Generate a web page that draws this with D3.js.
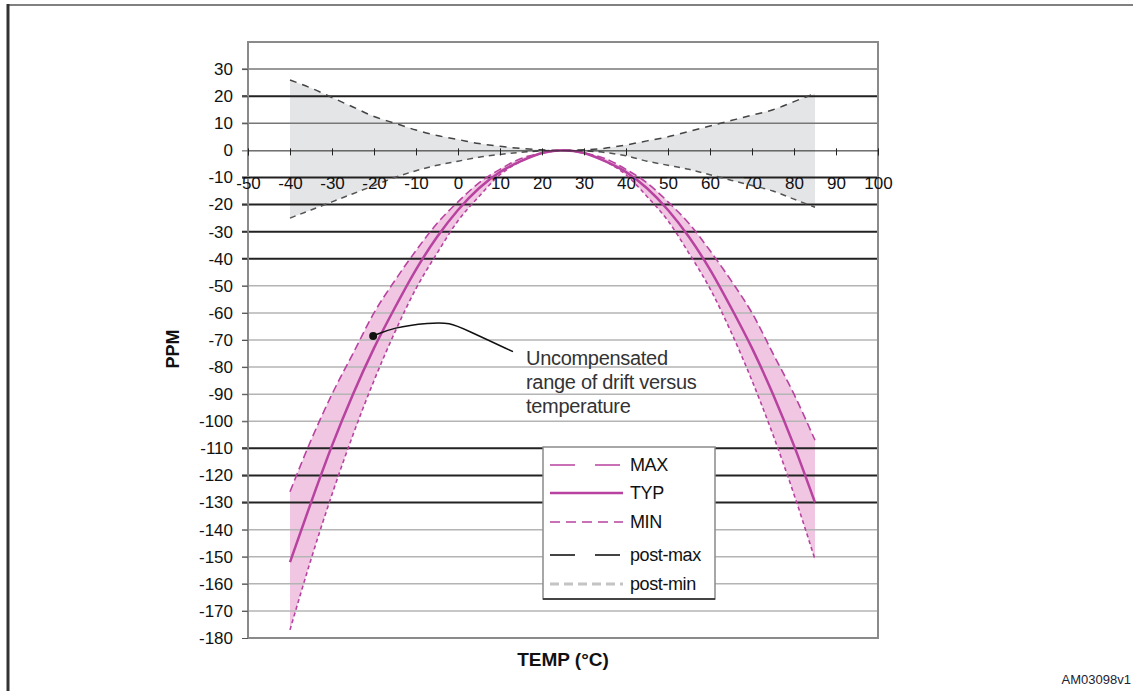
<!DOCTYPE html>
<html>
<head>
<meta charset="utf-8">
<script src="https://cdn.jsdelivr.net/npm/d3@7"></script>
<style>
  body { margin: 0; background: #fff; }
  svg text { font-family: "Liberation Sans", Arial, sans-serif; }
</style>
</head>
<body>
<div id="chart"></div>
<script>
// temperature points (°C) and drift values (ppm)
const temps = [-40, -35, -30, -25, -20, -15, -10, -5, 0, 5, 10, 15, 20, 25, 30, 35, 40, 45, 50, 55, 60, 65, 70, 75, 80, 85];
const maxPpm = [-126, -107, -90, -75, -60, -48, -37, -27, -19, -12, -7, -3, -1, 0, -1, -3, -7, -12, -19, -27, -37, -48, -60, -75, -90, -107];
const typPpm = [-152, -130, -109, -90, -73, -58, -44, -32, -22, -14, -8, -4, -1, 0, -1, -4, -8, -14, -22, -32, -44, -58, -73, -90, -109, -130];
const minPpm = [-177, -151, -127, -105, -85, -67, -51, -38, -26, -17, -9, -4, -1, 0, -1, -4, -9, -17, -26, -38, -51, -67, -85, -105, -127, -151];
const postMax = [26, 23, 19.5, 16, 12.5, 10, 7.5, 5.5, 4, 2.5, 1.5, 0.7, 0.2, 0, 0.2, 0.8, 2, 3.5, 5, 7, 9, 11, 13, 15, 18, 21];
const postMin = [-25, -22, -19, -16, -13, -10, -7.5, -5.5, -4, -2.5, -1.5, -0.7, -0.2, 0, -0.2, -0.8, -2, -4, -5.5, -7, -9, -11, -13, -15, -18, -21];

const xTickValues = [-50, -40, -30, -20, -10, 0, 10, 20, 30, 40, 50, 60, 70, 80, 90, 100];
const yTickValues = [30, 20, 10, 0, -10, -20, -30, -40, -50, -60, -70, -80, -90, -100, -110, -120, -130, -140, -150, -160, -170, -180];
const darkGrid = [20, -10, -20, -30, -40, -110, -120, -130];
const midGrid = [30, 10];

const legendLabels = ["MAX", "TYP", "MIN", "post-max", "post-min"];

// annotation pointer, in data units
const pointerPath = [[-20.2, -68.5], [-15.5, -65.4], [-6.7, -63.6], [-1.9, -63.6], [1.7, -66.1], [13.1, -74.3]];
const noteLines = ["Uncompensated", "range of drift versus", "temperature"];

const width = 1133, height = 691;
const plot = { left: 248, right: 878, top: 42, bottom: 638 };

const magenta = "#b8429f";

const svg = d3.select("#chart").append("svg")
    .attr("width", width)
    .attr("height", height);

// outer frame
svg.append("line").attr("x1", 8).attr("x2", width).attr("y1", 5).attr("y2", 5)
    .attr("stroke", "#808080").attr("stroke-width", 2);
svg.append("line").attr("x1", 8).attr("x2", 8).attr("y1", 4).attr("y2", height)
    .attr("stroke", "#333").attr("stroke-width", 3);

const x = d3.scaleLinear().domain([-50, 100]).range([plot.left, plot.right]);
const y = d3.scaleLinear().domain([-180, 40]).range([plot.bottom, plot.top]);

const idx = d3.range(temps.length);

// shaded bands
const band = (lo, hi) => d3.area()
    .x(i => x(temps[i]))
    .y0(i => y(lo[i]))
    .y1(i => y(hi[i]))
    .curve(d3.curveMonotoneX);

svg.append("path").datum(idx)
    .attr("d", band(postMin, postMax))
    .attr("fill", "#e4e5e7");

svg.append("path").datum(idx)
    .attr("d", band(minPpm, maxPpm))
    .attr("fill", "#f0c6e3");

// gridlines
svg.append("g").selectAll("line")
    .data(yTickValues.filter(v => v !== 0 && v !== -180))
    .enter().append("line")
    .attr("x1", plot.left - 6)
    .attr("x2", plot.right)
    .attr("y1", d => y(d))
    .attr("y2", d => y(d))
    .attr("stroke", d => darkGrid.includes(d) ? "#222" : midGrid.includes(d) ? "#777" : "#b4b4b4")
    .attr("stroke-width", d => darkGrid.includes(d) ? 2 : 1.5);

// plot frame
svg.append("rect")
    .attr("x", plot.left).attr("y", plot.top)
    .attr("width", plot.right - plot.left)
    .attr("height", plot.bottom - plot.top)
    .attr("fill", "none")
    .attr("stroke", "#8a8a8a")
    .attr("stroke-width", 2);

// curves
const curve = vals => d3.line()
    .x(i => x(temps[i]))
    .y(i => y(vals[i]))
    .curve(d3.curveMonotoneX);

svg.append("path").datum(idx).attr("d", curve(postMax))
    .attr("fill", "none").attr("stroke", "#444").attr("stroke-width", 1.5)
    .attr("stroke-dasharray", "7,6");
svg.append("path").datum(idx).attr("d", curve(postMin))
    .attr("fill", "none").attr("stroke", "#555").attr("stroke-width", 1.5)
    .attr("stroke-dasharray", "6,5");

svg.append("path").datum(idx).attr("d", curve(maxPpm))
    .attr("fill", "none").attr("stroke", magenta).attr("stroke-width", 1.6)
    .attr("stroke-dasharray", "8,4");
svg.append("path").datum(idx).attr("d", curve(minPpm))
    .attr("fill", "none").attr("stroke", magenta).attr("stroke-width", 1.6)
    .attr("stroke-dasharray", "4,3");
svg.append("path").datum(idx).attr("d", curve(typPpm))
    .attr("fill", "none").attr("stroke", magenta).attr("stroke-width", 2.5);

// y axis (plain hyphen for negatives, as in the reference)
const yAxis = svg.append("g")
    .attr("transform", `translate(${plot.left},0)`)
    .call(d3.axisLeft(y).tickValues(yTickValues).tickFormat(d => String(d)).tickSize(6).tickPadding(9));
yAxis.select(".domain").remove();
yAxis.selectAll(".tick line").attr("stroke", "#555");
yAxis.selectAll("text").attr("font-size", 17).attr("fill", "#111");

// x axis on the zero line
const xAxis = svg.append("g")
    .attr("transform", `translate(0,${y(0)})`)
    .call(d3.axisBottom(x).tickValues(xTickValues).tickFormat(d => String(d)).tickSize(5).tickPadding(22));
xAxis.select(".domain").attr("stroke", "#222").attr("stroke-width", 1);
xAxis.selectAll(".tick line").attr("stroke", "#222").attr("y1", -2);
xAxis.selectAll("text").attr("font-size", 17).attr("fill", "#111");

// axis titles
svg.append("text")
    .attr("transform", "translate(179,349) rotate(-90)")
    .attr("text-anchor", "middle")
    .attr("font-size", 18).attr("font-weight", "bold").attr("fill", "#111")
    .text("PPM");

svg.append("text")
    .attr("x", (plot.left + plot.right) / 2)
    .attr("y", 666)
    .attr("text-anchor", "middle")
    .attr("font-size", 19).attr("font-weight", "bold").attr("fill", "#111")
    .text("TEMP (°C)");

// annotation
svg.append("path")
    .datum(pointerPath)
    .attr("d", d3.line().x(d => x(d[0])).y(d => y(d[1])).curve(d3.curveBasis))
    .attr("fill", "none").attr("stroke", "#111").attr("stroke-width", 1.5);
svg.append("circle")
    .attr("cx", x(pointerPath[0][0])).attr("cy", y(pointerPath[0][1]))
    .attr("r", 4).attr("fill", "#111");

svg.append("g").selectAll("text")
    .data(noteLines)
    .enter().append("text")
    .attr("x", 526)
    .attr("y", (d, i) => 365 + i * 24)
    .attr("font-family", "'Open Sans', sans-serif")
    .attr("font-size", 20)
    .attr("letter-spacing", -0.3)
    .attr("fill", "#333")
    .text(d => d);

// legend
const legend = svg.append("g").attr("transform", "translate(543,447)");
legend.append("rect")
    .attr("width", 172).attr("height", 152)
    .attr("fill", "#fff").attr("stroke", "#8a8a8a").attr("stroke-width", 1.5);
legend.append("line")
    .attr("x1", 0).attr("x2", 172).attr("y1", 152).attr("y2", 152)
    .attr("stroke", "#444").attr("stroke-width", 2);

const legendStyles = [
    { stroke: magenta, width: 1.5, dash: "25,20" },
    { stroke: magenta, width: 2.5, dash: null },
    { stroke: magenta, width: 1.5, dash: "10,6" },
    { stroke: "#444", width: 2, dash: "25,20" },
    { stroke: "#c4c4c4", width: 3, dash: "9,5" }
];
const legendY = [18, 46, 75, 108, 137];

const entries = legend.selectAll("g.entry")
    .data(legendLabels)
    .enter().append("g")
    .attr("class", "entry")
    .attr("transform", (d, i) => `translate(0,${legendY[i]})`);

entries.append("line")
    .attr("x1", 7).attr("x2", 80)
    .attr("stroke", (d, i) => legendStyles[i].stroke)
    .attr("stroke-width", (d, i) => legendStyles[i].width)
    .attr("stroke-dasharray", (d, i) => legendStyles[i].dash);

entries.append("text")
    .attr("x", 87)
    .attr("dy", "0.35em")
    .attr("font-size", 18)
    .attr("letter-spacing", -0.4)
    .attr("fill", "#111")
    .text(d => d);

// figure id
svg.append("text")
    .attr("x", width - 2).attr("y", 684)
    .attr("text-anchor", "end")
    .attr("font-size", 13).attr("fill", "#223")
    .text("AM03098v1");
</script>
</body>
</html>
